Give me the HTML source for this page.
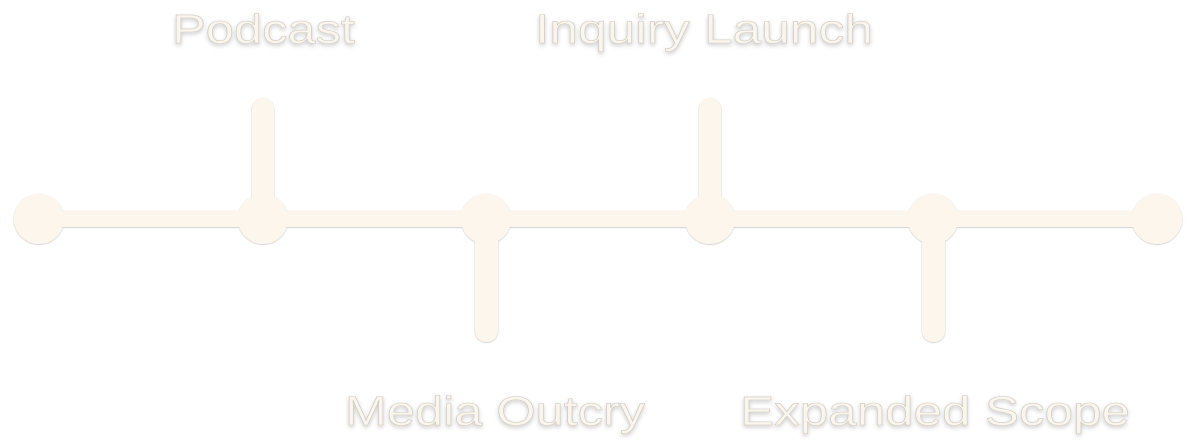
<!DOCTYPE html>
<html><head><meta charset="utf-8"><style>
html,body{margin:0;padding:0;background:#fff;width:1200px;height:446px;overflow:hidden}
svg{display:block}
text{font-family:"Liberation Sans",sans-serif;font-size:41px;fill:#faf6ee;stroke:#cfcac1;stroke-width:0.6px;filter:url(#sh)}
</style></head><body>
<svg width="1200" height="446" viewBox="0 0 1200 446">
<defs>
<filter id="sh" x="-10%" y="-30%" width="120%" height="160%"><feDropShadow dx="0" dy="2" stdDeviation="2" flood-color="#000" flood-opacity="0.2"/></filter>
<filter id="sh2" x="-10%" y="-10%" width="120%" height="120%"><feDropShadow dx="0" dy="0.5" stdDeviation="0.7" flood-color="#000" flood-opacity="0.3"/></filter>
</defs>
<g fill="#fcf6ec" filter="url(#sh2)">
<rect x="39" y="211" width="1118" height="16"/>
<rect x="252" y="98" width="22" height="121" rx="11"/>
<rect x="699" y="98" width="22" height="121" rx="11"/>
<rect x="475" y="219" width="23" height="123" rx="11"/>
<rect x="922" y="219" width="23" height="123" rx="11"/>
<circle cx="39" cy="219" r="25"/>
<circle cx="263" cy="219" r="25"/>
<circle cx="486" cy="219" r="25"/>
<circle cx="710" cy="219" r="25"/>
<circle cx="933" cy="219" r="25"/>
<circle cx="1157" cy="219" r="25"/>
</g>
<text x="172" y="43" textLength="183" lengthAdjust="spacingAndGlyphs">Podcast</text>
<text x="535" y="43" textLength="338" lengthAdjust="spacingAndGlyphs">Inquiry Launch</text>
<text x="345" y="425" textLength="300" lengthAdjust="spacingAndGlyphs">Media Outcry</text>
<text x="740" y="425" textLength="390" lengthAdjust="spacingAndGlyphs">Expanded Scope</text>
</svg>
</body></html>
